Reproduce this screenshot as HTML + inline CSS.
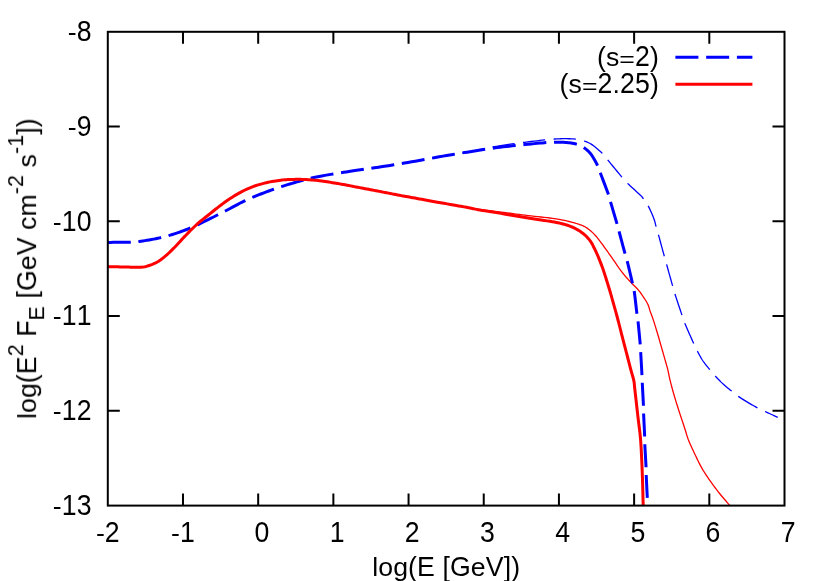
<!DOCTYPE html>
<html><head><meta charset="utf-8"><title>plot</title>
<style>
html,body{margin:0;padding:0;background:#fff;}
body{width:830px;height:581px;overflow:hidden;font-family:"Liberation Sans",sans-serif;}
svg{display:block;will-change:transform;}
</style></head><body>
<svg width="830" height="581" viewBox="0 0 830 581">
<rect width="830" height="581" fill="#fff"/>
<g font-family="'Liberation Sans', sans-serif" font-size="26.67" fill="#000" style="font-kerning:none;filter:grayscale(1)">
<path d="M182.99,505.60 v-12.00 M182.99,31.80 v12.00 M258.18,505.60 v-12.00 M258.18,31.80 v12.00 M333.37,505.60 v-12.00 M333.37,31.80 v12.00 M408.56,505.60 v-12.00 M408.56,31.80 v12.00 M483.74,505.60 v-12.00 M483.74,31.80 v12.00 M558.93,505.60 v-12.00 M558.93,31.80 v12.00 M634.12,505.60 v-12.00 M634.12,31.80 v12.00 M709.31,505.60 v-12.00 M709.31,31.80 v12.00 M107.80,410.84 h12.00 M784.50,410.84 h-12.00 M107.80,316.08 h12.00 M784.50,316.08 h-12.00 M107.80,221.32 h12.00 M784.50,221.32 h-12.00 M107.80,126.56 h12.00 M784.50,126.56 h-12.00" stroke="#000" stroke-width="2" fill="none"/>
<g transform="translate(107.80,541.80)"><text transform="translate(-11.91,0.00) scale(1,1.000)" font-size="26.67" letter-spacing="0.10">-</text><text transform="translate(-2.93,0.00) scale(1,1.090)" font-size="26.67" letter-spacing="0.10">2</text></g>
<g transform="translate(182.99,541.80)"><text transform="translate(-11.91,0.00) scale(1,1.000)" font-size="26.67" letter-spacing="0.10">-</text><text transform="translate(-2.93,0.00) scale(1,1.090)" font-size="26.67" letter-spacing="0.10">1</text></g>
<g transform="translate(261.88,541.80)"><text transform="translate(-7.42,0.00) scale(1,1.090)" font-size="26.67" letter-spacing="0.10">0</text></g>
<g transform="translate(337.07,541.80)"><text transform="translate(-7.42,0.00) scale(1,1.090)" font-size="26.67" letter-spacing="0.10">1</text></g>
<g transform="translate(412.26,541.80)"><text transform="translate(-7.42,0.00) scale(1,1.090)" font-size="26.67" letter-spacing="0.10">2</text></g>
<g transform="translate(487.45,541.80)"><text transform="translate(-7.42,0.00) scale(1,1.090)" font-size="26.67" letter-spacing="0.10">3</text></g>
<g transform="translate(562.64,541.80)"><text transform="translate(-7.42,0.00) scale(1,1.090)" font-size="26.67" letter-spacing="0.10">4</text></g>
<g transform="translate(637.83,541.80)"><text transform="translate(-7.42,0.00) scale(1,1.090)" font-size="26.67" letter-spacing="0.10">5</text></g>
<g transform="translate(713.02,541.80)"><text transform="translate(-7.42,0.00) scale(1,1.090)" font-size="26.67" letter-spacing="0.10">6</text></g>
<g transform="translate(788.20,541.80)"><text transform="translate(-7.42,0.00) scale(1,1.090)" font-size="26.67" letter-spacing="0.10">7</text></g>
<g transform="translate(91.50,514.90)"><text transform="translate(-38.75,0.00) scale(1,1.000)" font-size="26.67" letter-spacing="0.10">-</text><text transform="translate(-29.77,0.00) scale(1,1.090)" font-size="26.67" letter-spacing="0.10">13</text></g>
<g transform="translate(91.50,420.14)"><text transform="translate(-38.75,0.00) scale(1,1.000)" font-size="26.67" letter-spacing="0.10">-</text><text transform="translate(-29.77,0.00) scale(1,1.090)" font-size="26.67" letter-spacing="0.10">12</text></g>
<g transform="translate(91.50,325.38)"><text transform="translate(-38.75,0.00) scale(1,1.000)" font-size="26.67" letter-spacing="0.10">-</text><text transform="translate(-29.77,0.00) scale(1,1.090)" font-size="26.67" letter-spacing="0.10">11</text></g>
<g transform="translate(91.50,230.62)"><text transform="translate(-38.75,0.00) scale(1,1.000)" font-size="26.67" letter-spacing="0.10">-</text><text transform="translate(-29.77,0.00) scale(1,1.090)" font-size="26.67" letter-spacing="0.10">10</text></g>
<g transform="translate(91.50,135.86)"><text transform="translate(-23.81,0.00) scale(1,1.000)" font-size="26.67" letter-spacing="0.10">-</text><text transform="translate(-14.83,0.00) scale(1,1.090)" font-size="26.67" letter-spacing="0.10">9</text></g>
<g transform="translate(91.50,41.10)"><text transform="translate(-23.81,0.00) scale(1,1.000)" font-size="26.67" letter-spacing="0.10">-</text><text transform="translate(-14.83,0.00) scale(1,1.090)" font-size="26.67" letter-spacing="0.10">8</text></g>
<g transform="translate(446.15,576.00)"><text transform="translate(-73.92,0.00) scale(1,1.000)" font-size="26.67" letter-spacing="0.10">log</text><text transform="translate(-38.03,0.00) scale(1,1.020)" font-size="26.67" letter-spacing="0.10">(</text><text transform="translate(-29.05,0.00) scale(1,1.060)" font-size="26.67" letter-spacing="0.10">E</text><text transform="translate(-11.16,0.00) scale(1,1.000)" font-size="26.67" letter-spacing="0.10">&#160;</text><text transform="translate(-3.65,0.00) scale(1,1.020)" font-size="26.67" letter-spacing="0.10">[</text><text transform="translate(3.86,0.00) scale(1,1.060)" font-size="26.67" letter-spacing="0.10">G</text><text transform="translate(24.71,0.00) scale(1,1.000)" font-size="26.67" letter-spacing="0.10">e</text><text transform="translate(39.64,0.00) scale(1,1.060)" font-size="26.67" letter-spacing="0.10">V</text><text transform="translate(57.53,0.00) scale(1,1.020)" font-size="26.67" letter-spacing="0.10">])</text></g>
<g transform="translate(36.10,268.70) rotate(-90)"><text transform="translate(-150.29,0.00) scale(1,1.000)" font-size="26.67" letter-spacing="0.10">log</text><text transform="translate(-114.40,0.00) scale(1,1.020)" font-size="26.67" letter-spacing="0.10">(</text><text transform="translate(-105.42,0.00) scale(1,1.060)" font-size="26.67" letter-spacing="0.10">E</text><text transform="translate(-87.53,-13.34) scale(1,1.060)" font-size="21.34" letter-spacing="0.10">2</text><text transform="translate(-75.57,0.00) scale(1,1.000)" font-size="26.67" letter-spacing="0.10">&#160;</text><text transform="translate(-68.06,0.00) scale(1,1.060)" font-size="26.67" letter-spacing="0.10">F</text><text transform="translate(-51.66,8.00) scale(1,1.060)" font-size="21.34" letter-spacing="0.10">E</text><text transform="translate(-37.33,0.00) scale(1,1.000)" font-size="26.67" letter-spacing="0.10">&#160;</text><text transform="translate(-29.82,0.00) scale(1,1.020)" font-size="26.67" letter-spacing="0.10">[</text><text transform="translate(-22.31,0.00) scale(1,1.060)" font-size="26.67" letter-spacing="0.10">G</text><text transform="translate(-1.47,0.00) scale(1,1.000)" font-size="26.67" letter-spacing="0.10">e</text><text transform="translate(13.46,0.00) scale(1,1.060)" font-size="26.67" letter-spacing="0.10">V</text><text transform="translate(31.35,0.00) scale(1,1.000)" font-size="26.67" letter-spacing="0.10">&#160;cm</text><text transform="translate(74.61,-13.34) scale(1,1.000)" font-size="21.34" letter-spacing="0.10">-</text><text transform="translate(81.82,-13.34) scale(1,1.060)" font-size="21.34" letter-spacing="0.10">2</text><text transform="translate(93.78,0.00) scale(1,1.000)" font-size="26.67" letter-spacing="0.10">&#160;s</text><text transform="translate(114.73,-13.34) scale(1,1.000)" font-size="21.34" letter-spacing="0.10">-</text><text transform="translate(121.93,-13.34) scale(1,1.060)" font-size="21.34" letter-spacing="0.10">1</text><text transform="translate(133.90,0.00) scale(1,1.020)" font-size="26.67" letter-spacing="0.10">])</text></g>
<g transform="translate(658.80,66.30)"><text transform="translate(-61.91,0.00) scale(1,1.020)" font-size="26.67" letter-spacing="0.10">(</text><text transform="translate(-52.92,0.00) scale(1,1.000)" font-size="26.67" letter-spacing="0.10">s</text><text transform="translate(-39.49,0.95) scale(1,0.850)" font-size="26.67" letter-spacing="0.10">=</text><text transform="translate(-23.81,0.00) scale(1,1.090)" font-size="26.67" letter-spacing="0.10">2</text><text transform="translate(-8.88,0.00) scale(1,1.020)" font-size="26.67" letter-spacing="0.10">)</text></g>
<g transform="translate(658.80,93.00)"><text transform="translate(-99.28,0.00) scale(1,1.020)" font-size="26.67" letter-spacing="0.10">(</text><text transform="translate(-90.30,0.00) scale(1,1.000)" font-size="26.67" letter-spacing="0.10">s</text><text transform="translate(-76.86,0.95) scale(1,0.850)" font-size="26.67" letter-spacing="0.10">=</text><text transform="translate(-61.19,0.00) scale(1,1.090)" font-size="26.67" letter-spacing="0.10">2</text><text transform="translate(-46.26,0.00) scale(1,1.000)" font-size="26.67" letter-spacing="0.10">.</text><text transform="translate(-38.75,0.00) scale(1,1.090)" font-size="26.67" letter-spacing="0.10">25</text><text transform="translate(-8.88,0.00) scale(1,1.020)" font-size="26.67" letter-spacing="0.10">)</text></g>
</g>
<g fill="none" stroke-linecap="butt" stroke-linejoin="miter">
<path d="M675.4,57.3 H752.4" stroke="#00f" stroke-width="3" stroke-dasharray="23.0 7.75"/>
<path d="M675.4,84.3 H752.4" stroke="#f00" stroke-width="3"/>
<path d="M107.80,242.40 L110.50,242.38 L113.29,242.37 L116.11,242.36 L118.91,242.35 L121.65,242.33 L124.26,242.31 L126.69,242.26 L128.90,242.20 L130.81,242.13 L132.45,242.05 L133.89,241.97 L135.22,241.87 L136.51,241.75 L137.86,241.60 L139.32,241.42 L141.00,241.20 L142.89,240.93 L144.92,240.63 L147.06,240.29 L149.25,239.93 L151.46,239.54 L153.65,239.13 L155.78,238.72 L157.80,238.30 L159.70,237.89 L161.50,237.48 L163.25,237.06 L164.97,236.63 L166.70,236.16 L168.48,235.66 L170.33,235.11 L172.30,234.50 L174.41,233.82 L176.63,233.08 L178.93,232.30 L181.28,231.47 L183.64,230.61 L185.97,229.74 L188.23,228.87 L190.40,228.00 L192.44,227.14 L194.39,226.29 L196.27,225.43 L198.12,224.55 L199.99,223.65 L201.90,222.71 L203.89,221.73 L206.00,220.70 L208.24,219.61 L210.56,218.45 L212.97,217.26 L215.42,216.02 L217.90,214.77 L220.39,213.51 L222.86,212.25 L225.30,211.00 L227.71,209.74 L230.12,208.46 L232.54,207.15 L234.95,205.85 L237.36,204.56 L239.78,203.29 L242.19,202.07 L244.60,200.90 L247.01,199.78 L249.43,198.70 L251.84,197.65 L254.26,196.64 L256.67,195.65 L259.08,194.68 L261.49,193.73 L263.90,192.80 L266.32,191.88 L268.76,190.99 L271.21,190.11 L273.65,189.26 L276.07,188.43 L278.46,187.62 L280.81,186.85 L283.10,186.10 L285.36,185.38 L287.61,184.69 L289.83,184.02 L292.02,183.38 L294.14,182.77 L296.19,182.18 L298.15,181.63 L300.00,181.10 L301.64,180.62 L303.06,180.19 L304.33,179.80 L305.55,179.44 L306.81,179.08 L308.19,178.71 L309.79,178.33 L311.70,177.90 L313.93,177.43 L316.42,176.94 L319.11,176.43 L321.93,175.91 L324.83,175.38 L327.75,174.87 L330.62,174.37 L333.40,173.90 L336.04,173.46 L338.58,173.06 L341.08,172.67 L343.59,172.29 L346.19,171.90 L348.91,171.50 L351.83,171.07 L355.00,170.60 L358.47,170.09 L362.22,169.55 L366.17,168.98 L370.24,168.39 L374.38,167.80 L378.50,167.19 L382.53,166.59 L386.40,166.00 L390.12,165.42 L393.74,164.84 L397.32,164.25 L400.86,163.67 L404.40,163.07 L407.96,162.47 L411.59,161.84 L415.30,161.20 L419.15,160.52 L423.14,159.79 L427.21,159.04 L431.29,158.29 L435.34,157.54 L439.27,156.81 L443.05,156.13 L446.60,155.50 L449.98,154.93 L453.27,154.39 L456.45,153.88 L459.51,153.41 L462.41,152.95 L465.14,152.52 L467.67,152.10 L470.00,151.70 L472.04,151.32 L473.80,150.96 L475.33,150.63 L476.71,150.31 L477.99,150.01 L479.26,149.71 L480.57,149.41 L482.00,149.10 L483.43,148.80 L484.74,148.51 L486.00,148.24 L487.29,147.96 L488.68,147.68 L490.23,147.38 L492.01,147.06 L494.10,146.70 L496.54,146.30 L499.28,145.87 L502.26,145.41 L505.40,144.93 L508.64,144.45 L511.89,143.98 L515.11,143.52 L518.20,143.10 L521.30,142.69 L524.53,142.28 L527.80,141.88 L531.06,141.49 L534.21,141.12 L537.18,140.78 L539.90,140.47 L542.30,140.20 L544.31,139.97 L545.99,139.78 L547.42,139.62 L548.67,139.49 L549.82,139.38 L550.96,139.28 L552.16,139.19 L553.50,139.10 L554.95,139.01 L556.43,138.93 L557.92,138.86 L559.41,138.80 L560.91,138.75 L562.39,138.72 L563.86,138.70 L565.30,138.70 L566.73,138.71 L568.18,138.73 L569.62,138.76 L571.04,138.81 L572.44,138.88 L573.79,138.96 L575.08,139.07 L576.30,139.20 L577.43,139.35 L578.49,139.51 L579.48,139.69 L580.43,139.89 L581.36,140.11 L582.28,140.37 L583.22,140.67 L584.20,141.00 L585.19,141.35 L586.16,141.71 L587.12,142.09 L588.09,142.51 L589.09,142.99 L590.11,143.53 L591.18,144.16 L592.30,144.90 L593.53,145.79 L594.87,146.82 L596.28,147.97 L597.71,149.18 L599.11,150.40 L600.44,151.59 L601.65,152.71 L602.70,153.70 L603.50,154.49 L604.06,155.10 L604.47,155.59 L604.83,156.07 L605.21,156.63 L605.73,157.34 L606.46,158.30 L607.50,159.60 L608.94,161.36 L610.73,163.54 L612.75,166.02 L614.89,168.63 L617.04,171.24 L619.06,173.70 L620.86,175.87 L622.30,177.60 L623.32,178.83 L624.01,179.66 L624.47,180.22 L624.81,180.62 L625.14,180.98 L625.57,181.42 L626.22,182.05 L627.20,183.00 L628.59,184.32 L630.31,185.92 L632.26,187.71 L634.31,189.58 L636.33,191.44 L638.22,193.17 L639.85,194.70 L641.10,195.90 L641.93,196.75 L642.45,197.32 L642.74,197.68 L642.87,197.93 L642.93,198.12 L643.00,198.35 L643.16,198.68 L643.50,199.20 L643.98,199.85 L644.52,200.55 L645.10,201.30 L645.71,202.10 L646.35,202.97 L647.00,203.92 L647.65,204.96 L648.30,206.10 L648.97,207.39 L649.68,208.85 L650.41,210.42 L651.15,212.06 L651.87,213.70 L652.55,215.31 L653.16,216.83 L653.70,218.20 L654.14,219.43 L654.51,220.56 L654.82,221.62 L655.09,222.63 L655.33,223.61 L655.57,224.59 L655.82,225.58 L656.10,226.60 L656.38,227.56 L656.62,228.39 L656.85,229.17 L657.08,229.98 L657.34,230.89 L657.65,231.98 L658.03,233.32 L658.50,235.00 L659.10,237.16 L659.82,239.78 L660.62,242.71 L661.47,245.80 L662.31,248.88 L663.11,251.80 L663.82,254.39 L664.40,256.50 L664.82,258.01 L665.09,259.03 L665.28,259.72 L665.42,260.24 L665.57,260.78 L665.77,261.49 L666.06,262.54 L666.50,264.10 L667.12,266.29 L667.88,269.01 L668.74,272.08 L669.65,275.31 L670.56,278.55 L671.42,281.61 L672.18,284.32 L672.80,286.50 L673.23,288.05 L673.50,289.07 L673.67,289.75 L673.79,290.25 L673.92,290.74 L674.11,291.40 L674.42,292.40 L674.90,293.90 L675.59,296.02 L676.45,298.63 L677.42,301.57 L678.46,304.68 L679.51,307.79 L680.50,310.74 L681.38,313.37 L682.10,315.50 L682.61,317.04 L682.95,318.10 L683.17,318.85 L683.34,319.43 L683.53,319.99 L683.79,320.71 L684.20,321.72 L684.80,323.20 L685.65,325.23 L686.72,327.72 L687.92,330.50 L689.20,333.43 L690.49,336.36 L691.71,339.13 L692.80,341.59 L693.70,343.60 L694.38,345.11 L694.90,346.26 L695.31,347.13 L695.64,347.84 L695.96,348.46 L696.29,349.10 L696.69,349.85 L697.20,350.80 L697.81,351.94 L698.46,353.16 L699.15,354.45 L699.87,355.78 L700.62,357.12 L701.40,358.46 L702.19,359.76 L703.00,361.00 L703.85,362.21 L704.75,363.43 L705.69,364.63 L706.64,365.81 L707.59,366.96 L708.51,368.07 L709.39,369.12 L710.20,370.10 L710.92,370.98 L711.56,371.77 L712.14,372.49 L712.71,373.17 L713.27,373.84 L713.88,374.53 L714.54,375.28 L715.30,376.10 L716.15,377.01 L717.06,377.98 L718.02,378.99 L719.02,380.03 L720.06,381.07 L721.10,382.11 L722.16,383.12 L723.20,384.10 L724.26,385.05 L725.37,386.01 L726.50,386.95 L727.64,387.88 L728.76,388.79 L729.86,389.67 L730.91,390.51 L731.90,391.30 L732.80,392.03 L733.61,392.70 L734.37,393.33 L735.11,393.93 L735.85,394.51 L736.62,395.11 L737.46,395.73 L738.40,396.40 L739.43,397.11 L740.54,397.85 L741.70,398.61 L742.89,399.37 L744.12,400.15 L745.35,400.91 L746.59,401.67 L747.80,402.40 L749.02,403.12 L750.28,403.85 L751.55,404.58 L752.82,405.30 L754.08,406.00 L755.30,406.67 L756.48,407.31 L757.60,407.90 L758.61,408.43 L759.52,408.88 L760.36,409.29 L761.18,409.68 L762.02,410.07 L762.92,410.49 L763.93,410.96 L765.10,411.50 L766.43,412.12 L767.89,412.80 L769.45,413.51 L771.08,414.26 L772.75,415.03 L774.43,415.80 L776.09,416.56 L777.70,417.30" stroke="#00f" stroke-width="1.3" stroke-dasharray="22.3 8.45"/>
<path d="M107.80,266.60 L109.83,266.65 L111.86,266.70 L113.89,266.76 L115.91,266.81 L117.94,266.86 L119.98,266.91 L122.03,266.96 L124.10,267.00 L126.25,267.05 L128.51,267.10 L130.82,267.16 L133.12,267.21 L135.35,267.25 L137.44,267.27 L139.35,267.25 L141.00,267.20 L142.36,267.12 L143.45,267.01 L144.36,266.88 L145.13,266.72 L145.84,266.54 L146.54,266.33 L147.31,266.08 L148.20,265.80 L149.19,265.49 L150.22,265.15 L151.26,264.79 L152.32,264.39 L153.40,263.95 L154.47,263.48 L155.54,262.96 L156.60,262.40 L157.64,261.80 L158.67,261.16 L159.69,260.48 L160.72,259.76 L161.75,259.00 L162.81,258.19 L163.89,257.32 L165.00,256.40 L166.15,255.41 L167.34,254.35 L168.55,253.23 L169.78,252.07 L171.01,250.87 L172.25,249.65 L173.48,248.42 L174.70,247.20 L175.89,245.98 L177.05,244.74 L178.20,243.50 L179.35,242.23 L180.52,240.94 L181.73,239.63 L182.98,238.28 L184.30,236.90 L185.69,235.46 L187.15,233.95 L188.66,232.39 L190.20,230.82 L191.76,229.25 L193.32,227.71 L194.88,226.21 L196.40,224.80 L197.89,223.48 L199.35,222.23 L200.80,221.03 L202.25,219.86 L203.72,218.69 L205.23,217.51 L206.78,216.29 L208.40,215.00 L210.09,213.64 L211.85,212.22 L213.66,210.76 L215.50,209.28 L217.36,207.81 L219.22,206.35 L221.08,204.95 L222.90,203.60 L224.70,202.30 L226.50,201.03 L228.30,199.79 L230.10,198.57 L231.90,197.40 L233.70,196.25 L235.50,195.15 L237.30,194.10 L239.11,193.09 L240.92,192.11 L242.73,191.18 L244.54,190.28 L246.36,189.42 L248.17,188.61 L249.99,187.83 L251.80,187.10 L253.61,186.41 L255.43,185.77 L257.24,185.18 L259.06,184.62 L260.87,184.10 L262.68,183.61 L264.49,183.14 L266.30,182.70 L268.14,182.28 L270.03,181.90 L271.93,181.54 L273.82,181.22 L275.68,180.92 L277.46,180.65 L279.14,180.41 L280.70,180.20 L282.09,180.02 L283.32,179.88 L284.44,179.78 L285.50,179.70 L286.54,179.64 L287.60,179.59 L288.74,179.55 L290.00,179.50 L291.37,179.45 L292.80,179.41 L294.28,179.38 L295.80,179.36 L297.34,179.35 L298.90,179.35 L300.46,179.37 L302.00,179.40 L303.53,179.45 L305.05,179.51 L306.57,179.59 L308.10,179.68 L309.65,179.78 L311.23,179.90 L312.84,180.04 L314.50,180.20 L316.21,180.38 L317.96,180.59 L319.76,180.81 L321.57,181.05 L323.41,181.30 L325.25,181.56 L327.08,181.83 L328.90,182.10 L330.71,182.37 L332.52,182.66 L334.33,182.95 L336.15,183.24 L337.97,183.55 L339.78,183.86 L341.59,184.18 L343.40,184.50 L345.20,184.83 L347.00,185.17 L348.80,185.53 L350.60,185.88 L352.40,186.24 L354.20,186.60 L356.00,186.95 L357.80,187.30 L359.61,187.64 L361.42,187.98 L363.23,188.32 L365.05,188.65 L366.87,188.98 L368.68,189.32 L370.49,189.66 L372.30,190.00 L374.10,190.35 L375.90,190.69 L377.70,191.04 L379.50,191.39 L381.30,191.75 L383.10,192.10 L384.90,192.45 L386.70,192.80 L388.51,193.15 L390.33,193.51 L392.16,193.86 L393.99,194.22 L395.81,194.57 L397.62,194.92 L399.42,195.26 L401.20,195.60 L402.92,195.92 L404.56,196.22 L406.17,196.51 L407.78,196.80 L409.43,197.10 L411.16,197.40 L413.00,197.74 L415.00,198.10 L417.14,198.49 L419.39,198.91 L421.73,199.34 L424.16,199.79 L426.67,200.26 L429.25,200.73 L431.90,201.21 L434.60,201.70 L437.48,202.21 L440.61,202.76 L443.87,203.32 L447.17,203.89 L450.40,204.45 L453.47,204.98 L456.27,205.47 L458.70,205.90 L460.73,206.27 L462.46,206.58 L463.93,206.86 L465.23,207.11 L466.42,207.33 L467.57,207.55 L468.74,207.77 L470.00,208.00 L471.22,208.22 L472.26,208.43 L473.23,208.62 L474.20,208.81 L475.27,209.00 L476.54,209.21 L478.08,209.44 L480.00,209.70 L482.34,210.00 L485.03,210.32 L488.00,210.66 L491.17,211.01 L494.44,211.38 L497.74,211.75 L500.99,212.13 L504.10,212.50 L507.11,212.88 L510.12,213.26 L513.14,213.66 L516.15,214.06 L519.16,214.45 L522.18,214.85 L525.19,215.23 L528.20,215.60 L531.30,215.96 L534.51,216.32 L537.77,216.67 L541.01,217.01 L544.15,217.35 L547.13,217.68 L549.87,217.99 L552.30,218.30 L554.38,218.58 L556.15,218.84 L557.68,219.09 L559.05,219.33 L560.32,219.57 L561.58,219.82 L562.88,220.09 L564.30,220.40 L565.84,220.74 L567.42,221.11 L569.03,221.50 L570.62,221.91 L572.19,222.32 L573.69,222.72 L575.10,223.12 L576.40,223.50 L577.58,223.86 L578.65,224.19 L579.65,224.51 L580.58,224.84 L581.46,225.17 L582.31,225.52 L583.15,225.89 L584.00,226.30 L584.83,226.74 L585.63,227.19 L586.40,227.66 L587.15,228.16 L587.89,228.67 L588.62,229.22 L589.35,229.79 L590.10,230.40 L590.85,231.04 L591.60,231.70 L592.35,232.39 L593.10,233.11 L593.85,233.86 L594.60,234.64 L595.35,235.45 L596.10,236.30 L596.86,237.19 L597.62,238.12 L598.38,239.10 L599.15,240.10 L599.92,241.12 L600.68,242.15 L601.44,243.18 L602.20,244.20 L602.96,245.22 L603.71,246.24 L604.46,247.28 L605.21,248.32 L605.96,249.36 L606.71,250.41 L607.46,251.45 L608.20,252.50 L608.94,253.54 L609.68,254.59 L610.42,255.63 L611.15,256.68 L611.88,257.72 L612.62,258.78 L613.36,259.83 L614.10,260.90 L614.85,261.98 L615.59,263.08 L616.34,264.19 L617.09,265.31 L617.85,266.41 L618.60,267.50 L619.35,268.57 L620.10,269.60 L620.85,270.60 L621.60,271.58 L622.35,272.54 L623.09,273.48 L623.84,274.41 L624.59,275.32 L625.35,276.21 L626.10,277.10 L626.86,277.97 L627.62,278.83 L628.38,279.66 L629.15,280.49 L629.92,281.30 L630.68,282.11 L631.44,282.91 L632.20,283.70 L632.96,284.48 L633.74,285.25 L634.51,286.00 L635.28,286.75 L636.04,287.50 L636.79,288.25 L637.51,289.02 L638.20,289.80 L638.86,290.59 L639.48,291.39 L640.09,292.19 L640.68,292.99 L641.25,293.82 L641.83,294.65 L642.41,295.51 L643.00,296.40 L643.62,297.32 L644.26,298.28 L644.91,299.26 L645.55,300.26 L646.18,301.27 L646.77,302.26 L647.31,303.25 L647.80,304.20 L648.21,305.12 L648.55,306.01 L648.85,306.89 L649.11,307.76 L649.35,308.63 L649.61,309.52 L649.88,310.44 L650.20,311.40 L650.54,312.36 L650.89,313.29 L651.25,314.22 L651.62,315.19 L652.00,316.21 L652.41,317.32 L652.84,318.54 L653.30,319.90 L653.79,321.42 L654.32,323.07 L654.87,324.83 L655.44,326.68 L656.03,328.60 L656.62,330.55 L657.21,332.53 L657.80,334.50 L658.39,336.49 L658.98,338.54 L659.58,340.63 L660.18,342.76 L660.79,344.90 L661.39,347.04 L662.00,349.18 L662.60,351.30 L663.22,353.44 L663.85,355.64 L664.50,357.85 L665.14,360.06 L665.76,362.23 L666.35,364.33 L666.91,366.33 L667.40,368.20 L667.82,369.90 L668.17,371.45 L668.48,372.88 L668.76,374.25 L669.03,375.60 L669.31,376.98 L669.63,378.43 L670.00,380.00 L670.42,381.68 L670.86,383.41 L671.33,385.19 L671.81,387.01 L672.31,388.86 L672.83,390.73 L673.36,392.62 L673.90,394.50 L674.45,396.38 L675.01,398.26 L675.58,400.16 L676.17,402.07 L676.77,404.02 L677.39,406.00 L678.04,408.02 L678.70,410.10 L679.41,412.29 L680.17,414.60 L680.96,416.98 L681.76,419.39 L682.56,421.76 L683.33,424.06 L684.05,426.22 L684.70,428.20 L685.26,429.96 L685.74,431.53 L686.17,432.97 L686.57,434.32 L686.97,435.65 L687.41,437.01 L687.91,438.44 L688.50,440.00 L689.18,441.68 L689.92,443.44 L690.70,445.24 L691.53,447.09 L692.39,448.95 L693.26,450.82 L694.13,452.67 L695.00,454.50 L695.87,456.31 L696.74,458.14 L697.62,459.97 L698.52,461.79 L699.43,463.61 L700.36,465.40 L701.32,467.17 L702.30,468.90 L703.31,470.60 L704.36,472.28 L705.43,473.94 L706.51,475.57 L707.61,477.19 L708.71,478.78 L709.81,480.35 L710.90,481.90 L711.97,483.41 L713.03,484.89 L714.08,486.33 L715.14,487.76 L716.22,489.17 L717.31,490.60 L718.44,492.04 L719.60,493.50 L720.81,494.99 L722.06,496.49 L723.35,498.00 L724.65,499.52 L725.97,501.04 L727.29,502.56 L728.60,504.08 L729.90,505.60" stroke="#f00" stroke-width="1.3"/>
<path d="M107.80,242.40 L110.50,242.38 L113.29,242.37 L116.11,242.36 L118.91,242.35 L121.65,242.33 L124.26,242.31 L126.69,242.26 L128.90,242.20 L130.81,242.13 L132.45,242.05 L133.89,241.97 L135.22,241.87 L136.51,241.75 L137.86,241.60 L139.32,241.42 L141.00,241.20 L142.89,240.93 L144.92,240.63 L147.06,240.29 L149.25,239.93 L151.46,239.54 L153.65,239.13 L155.78,238.72 L157.80,238.30 L159.70,237.89 L161.50,237.48 L163.25,237.06 L164.97,236.63 L166.70,236.16 L168.48,235.66 L170.33,235.11 L172.30,234.50 L174.41,233.82 L176.63,233.08 L178.93,232.30 L181.28,231.47 L183.64,230.61 L185.97,229.74 L188.23,228.87 L190.40,228.00 L192.44,227.14 L194.39,226.29 L196.27,225.43 L198.12,224.55 L199.99,223.65 L201.90,222.71 L203.89,221.73 L206.00,220.70 L208.24,219.61 L210.56,218.45 L212.97,217.26 L215.42,216.02 L217.90,214.77 L220.39,213.51 L222.86,212.25 L225.30,211.00 L227.71,209.74 L230.12,208.46 L232.54,207.15 L234.95,205.85 L237.36,204.56 L239.78,203.29 L242.19,202.07 L244.60,200.90 L247.01,199.78 L249.43,198.70 L251.84,197.65 L254.26,196.64 L256.67,195.65 L259.08,194.68 L261.49,193.73 L263.90,192.80 L266.32,191.88 L268.76,190.99 L271.21,190.11 L273.65,189.26 L276.07,188.43 L278.46,187.62 L280.81,186.85 L283.10,186.10 L285.36,185.38 L287.61,184.69 L289.83,184.02 L292.02,183.38 L294.14,182.77 L296.19,182.18 L298.15,181.63 L300.00,181.10 L301.64,180.62 L303.06,180.19 L304.33,179.80 L305.55,179.44 L306.81,179.08 L308.19,178.71 L309.79,178.33 L311.70,177.90 L313.93,177.43 L316.42,176.94 L319.11,176.43 L321.93,175.91 L324.83,175.38 L327.75,174.87 L330.62,174.37 L333.40,173.90 L336.04,173.46 L338.58,173.06 L341.08,172.67 L343.59,172.29 L346.19,171.90 L348.91,171.50 L351.83,171.07 L355.00,170.60 L358.47,170.09 L362.22,169.55 L366.17,168.98 L370.24,168.39 L374.38,167.80 L378.50,167.19 L382.53,166.59 L386.40,166.00 L390.12,165.42 L393.74,164.84 L397.32,164.25 L400.86,163.67 L404.40,163.07 L407.96,162.47 L411.59,161.84 L415.30,161.20 L419.15,160.52 L423.14,159.79 L427.21,159.04 L431.29,158.29 L435.34,157.54 L439.27,156.81 L443.05,156.13 L446.60,155.50 L449.90,154.93 L452.99,154.41 L455.92,153.93 L458.75,153.47 L461.52,153.03 L464.29,152.60 L467.10,152.16 L470.00,151.70 L472.98,151.23 L475.98,150.75 L478.99,150.27 L482.01,149.79 L485.03,149.32 L488.06,148.86 L491.08,148.42 L494.10,148.00 L497.11,147.60 L500.12,147.22 L503.14,146.86 L506.15,146.51 L509.16,146.17 L512.18,145.84 L515.19,145.52 L518.20,145.20 L521.30,144.88 L524.53,144.55 L527.80,144.23 L531.06,143.91 L534.21,143.62 L537.18,143.34 L539.90,143.10 L542.30,142.90 L544.31,142.74 L545.99,142.61 L547.42,142.52 L548.67,142.45 L549.82,142.40 L550.96,142.36 L552.16,142.33 L553.50,142.30 L554.95,142.27 L556.43,142.24 L557.92,142.22 L559.41,142.21 L560.91,142.21 L562.39,142.25 L563.86,142.31 L565.30,142.40 L566.74,142.53 L568.20,142.68 L569.65,142.85 L571.09,143.05 L572.49,143.28 L573.84,143.53 L575.11,143.80 L576.30,144.10 L577.38,144.42 L578.37,144.74 L579.28,145.09 L580.14,145.46 L580.97,145.87 L581.80,146.33 L582.63,146.83 L583.50,147.40 L584.40,148.01 L585.29,148.65 L586.19,149.32 L587.08,150.05 L587.97,150.84 L588.86,151.70 L589.73,152.65 L590.60,153.70 L591.48,154.90 L592.39,156.25 L593.30,157.71 L594.20,159.24 L595.07,160.78 L595.89,162.28 L596.64,163.71 L597.30,165.00 L597.83,166.08 L598.22,166.95 L598.52,167.70 L598.77,168.44 L599.04,169.26 L599.37,170.24 L599.81,171.49 L600.40,173.10 L601.20,175.20 L602.17,177.76 L603.26,180.62 L604.41,183.63 L605.54,186.64 L606.61,189.49 L607.55,192.03 L608.30,194.10 L608.82,195.60 L609.15,196.62 L609.36,197.32 L609.50,197.87 L609.63,198.42 L609.80,199.14 L610.07,200.18 L610.50,201.70 L611.12,203.81 L611.88,206.40 L612.74,209.32 L613.64,212.40 L614.55,215.49 L615.41,218.42 L616.18,221.04 L616.80,223.20 L617.25,224.79 L617.57,225.91 L617.80,226.73 L617.98,227.39 L618.16,228.06 L618.37,228.88 L618.67,230.01 L619.10,231.60 L619.68,233.76 L620.39,236.40 L621.17,239.34 L622.00,242.44 L622.83,245.53 L623.61,248.46 L624.32,251.07 L624.90,253.20 L625.34,254.74 L625.65,255.79 L625.89,256.51 L626.09,257.07 L626.28,257.64 L626.50,258.37 L626.80,259.44 L627.20,261.00 L627.73,263.17 L628.38,265.83 L629.09,268.83 L629.83,271.99 L630.57,275.15 L631.27,278.15 L631.89,280.82 L632.40,283.00 L632.78,284.57 L633.07,285.64 L633.28,286.39 L633.46,286.97 L633.61,287.55 L633.77,288.31 L633.96,289.40 L634.20,291.00 L634.51,293.22 L634.85,295.95 L635.22,299.03 L635.59,302.27 L635.97,305.51 L636.32,308.58 L636.63,311.30 L636.90,313.50 L637.11,315.07 L637.26,316.11 L637.38,316.81 L637.48,317.33 L637.58,317.86 L637.69,318.56 L637.82,319.62 L638.00,321.20 L638.23,323.43 L638.51,326.18 L638.82,329.28 L639.14,332.56 L639.45,335.84 L639.74,338.96 L640.00,341.74 L640.20,344.00 L640.34,345.65 L640.43,346.81 L640.48,347.63 L640.51,348.29 L640.54,348.93 L640.57,349.72 L640.62,350.83 L640.70,352.40 L640.82,354.53 L640.97,357.11 L641.13,360.00 L641.31,363.03 L641.48,366.08 L641.64,368.98 L641.78,371.61 L641.90,373.80 L641.98,375.47 L642.04,376.73 L642.08,377.70 L642.11,378.54 L642.13,379.37 L642.17,380.35 L642.22,381.61 L642.30,383.30 L642.41,385.51 L642.55,388.16 L642.70,391.09 L642.86,394.16 L643.02,397.23 L643.17,400.14 L643.30,402.74 L643.40,404.90 L643.46,406.50 L643.49,407.64 L643.51,408.47 L643.51,409.14 L643.51,409.82 L643.51,410.65 L643.54,411.80 L643.60,413.40 L643.69,415.57 L643.81,418.19 L643.95,421.12 L644.10,424.21 L644.25,427.31 L644.39,430.25 L644.51,432.90 L644.60,435.10 L644.66,436.75 L644.68,437.95 L644.69,438.86 L644.69,439.62 L644.69,440.38 L644.70,441.30 L644.73,442.52 L644.80,444.20 L644.91,446.44 L645.05,449.15 L645.22,452.17 L645.40,455.34 L645.58,458.51 L645.75,461.51 L645.89,464.20 L646.00,466.40 L646.07,468.01 L646.10,469.13 L646.11,469.92 L646.11,470.56 L646.10,471.19 L646.11,472.00 L646.14,473.15 L646.20,474.80 L646.30,477.07 L646.43,479.86 L646.58,482.98 L646.74,486.28 L646.90,489.57 L647.05,492.69 L647.19,495.46 L647.30,497.70 L647.38,499.41 L647.45,500.73 L647.50,501.76 L647.54,502.59 L647.58,503.30 L647.62,503.98 L647.65,504.72 L647.70,505.60" stroke="#00f" stroke-width="3" stroke-dasharray="23.0 7.75"/>
<path d="M107.80,266.60 L109.83,266.65 L111.86,266.70 L113.89,266.76 L115.91,266.81 L117.94,266.86 L119.98,266.91 L122.03,266.96 L124.10,267.00 L126.25,267.05 L128.51,267.10 L130.82,267.16 L133.12,267.21 L135.35,267.25 L137.44,267.27 L139.35,267.25 L141.00,267.20 L142.36,267.12 L143.45,267.01 L144.36,266.88 L145.13,266.72 L145.84,266.54 L146.54,266.33 L147.31,266.08 L148.20,265.80 L149.19,265.49 L150.22,265.15 L151.26,264.79 L152.32,264.39 L153.40,263.95 L154.47,263.48 L155.54,262.96 L156.60,262.40 L157.64,261.80 L158.67,261.16 L159.69,260.48 L160.72,259.76 L161.75,259.00 L162.81,258.19 L163.89,257.32 L165.00,256.40 L166.15,255.41 L167.34,254.35 L168.55,253.23 L169.78,252.07 L171.01,250.87 L172.25,249.65 L173.48,248.42 L174.70,247.20 L175.89,245.98 L177.05,244.74 L178.20,243.50 L179.35,242.23 L180.52,240.94 L181.73,239.63 L182.98,238.28 L184.30,236.90 L185.69,235.46 L187.15,233.95 L188.66,232.39 L190.20,230.82 L191.76,229.25 L193.32,227.71 L194.88,226.21 L196.40,224.80 L197.89,223.48 L199.35,222.23 L200.80,221.03 L202.25,219.86 L203.72,218.69 L205.23,217.51 L206.78,216.29 L208.40,215.00 L210.09,213.64 L211.85,212.22 L213.66,210.76 L215.50,209.28 L217.36,207.81 L219.22,206.35 L221.08,204.95 L222.90,203.60 L224.70,202.30 L226.50,201.03 L228.30,199.79 L230.10,198.57 L231.90,197.40 L233.70,196.25 L235.50,195.15 L237.30,194.10 L239.11,193.09 L240.92,192.11 L242.73,191.18 L244.54,190.28 L246.36,189.42 L248.17,188.61 L249.99,187.83 L251.80,187.10 L253.61,186.41 L255.43,185.77 L257.24,185.18 L259.06,184.62 L260.87,184.10 L262.68,183.61 L264.49,183.14 L266.30,182.70 L268.14,182.28 L270.03,181.90 L271.93,181.54 L273.82,181.22 L275.68,180.92 L277.46,180.65 L279.14,180.41 L280.70,180.20 L282.09,180.02 L283.32,179.88 L284.44,179.78 L285.50,179.70 L286.54,179.64 L287.60,179.59 L288.74,179.55 L290.00,179.50 L291.37,179.45 L292.80,179.41 L294.28,179.38 L295.80,179.36 L297.34,179.35 L298.90,179.35 L300.46,179.37 L302.00,179.40 L303.53,179.45 L305.05,179.51 L306.57,179.59 L308.10,179.68 L309.65,179.78 L311.23,179.90 L312.84,180.04 L314.50,180.20 L316.21,180.38 L317.96,180.59 L319.76,180.81 L321.57,181.05 L323.41,181.30 L325.25,181.56 L327.08,181.83 L328.90,182.10 L330.71,182.37 L332.52,182.66 L334.33,182.95 L336.15,183.24 L337.97,183.55 L339.78,183.86 L341.59,184.18 L343.40,184.50 L345.20,184.83 L347.00,185.17 L348.80,185.53 L350.60,185.88 L352.40,186.24 L354.20,186.60 L356.00,186.95 L357.80,187.30 L359.61,187.64 L361.42,187.98 L363.23,188.32 L365.05,188.65 L366.87,188.98 L368.68,189.32 L370.49,189.66 L372.30,190.00 L374.10,190.35 L375.90,190.69 L377.70,191.04 L379.50,191.39 L381.30,191.75 L383.10,192.10 L384.90,192.45 L386.70,192.80 L388.51,193.15 L390.33,193.51 L392.16,193.86 L393.99,194.22 L395.81,194.57 L397.62,194.92 L399.42,195.26 L401.20,195.60 L402.92,195.92 L404.56,196.22 L406.17,196.51 L407.78,196.80 L409.43,197.10 L411.16,197.40 L413.00,197.74 L415.00,198.10 L417.14,198.49 L419.39,198.91 L421.73,199.34 L424.16,199.79 L426.67,200.26 L429.25,200.73 L431.90,201.21 L434.60,201.70 L437.48,202.21 L440.61,202.76 L443.87,203.32 L447.17,203.89 L450.40,204.45 L453.47,204.98 L456.27,205.47 L458.70,205.90 L460.73,206.26 L462.46,206.57 L463.93,206.85 L465.23,207.09 L466.42,207.31 L467.57,207.53 L468.74,207.76 L470.00,208.00 L471.22,208.24 L472.26,208.46 L473.23,208.67 L474.20,208.89 L475.27,209.12 L476.54,209.37 L478.08,209.66 L480.00,210.00 L482.34,210.40 L485.03,210.84 L488.00,211.31 L491.17,211.82 L494.44,212.34 L497.74,212.87 L500.99,213.39 L504.10,213.90 L507.11,214.41 L510.12,214.92 L513.14,215.44 L516.15,215.96 L519.16,216.48 L522.18,217.00 L525.19,217.51 L528.20,218.00 L531.30,218.49 L534.51,218.98 L537.77,219.47 L541.01,219.94 L544.15,220.41 L547.13,220.86 L549.87,221.29 L552.30,221.70 L554.41,222.08 L556.25,222.42 L557.88,222.75 L559.32,223.06 L560.65,223.37 L561.89,223.67 L563.09,223.98 L564.30,224.30 L565.48,224.63 L566.56,224.96 L567.57,225.29 L568.52,225.62 L569.42,225.95 L570.29,226.29 L571.14,226.64 L572.00,227.00 L572.84,227.36 L573.64,227.72 L574.41,228.08 L575.16,228.46 L575.89,228.84 L576.62,229.24 L577.35,229.66 L578.10,230.10 L578.87,230.57 L579.66,231.08 L580.45,231.61 L581.24,232.15 L582.01,232.70 L582.75,233.25 L583.45,233.78 L584.10,234.30 L584.69,234.80 L585.24,235.29 L585.75,235.78 L586.23,236.26 L586.69,236.74 L587.13,237.23 L587.57,237.71 L588.00,238.20 L588.43,238.68 L588.83,239.15 L589.22,239.60 L589.59,240.07 L589.97,240.55 L590.34,241.06 L590.71,241.60 L591.10,242.20 L591.50,242.86 L591.91,243.58 L592.32,244.33 L592.74,245.12 L593.15,245.91 L593.55,246.70 L593.93,247.47 L594.30,248.20 L594.65,248.90 L594.98,249.58 L595.31,250.26 L595.62,250.92 L595.92,251.57 L596.22,252.22 L596.51,252.86 L596.80,253.50 L597.07,254.10 L597.32,254.64 L597.55,255.16 L597.77,255.68 L598.01,256.24 L598.27,256.85 L598.56,257.57 L598.90,258.40 L599.29,259.37 L599.71,260.44 L600.17,261.59 L600.66,262.82 L601.15,264.09 L601.64,265.39 L602.13,266.70 L602.60,268.00 L603.05,269.30 L603.50,270.63 L603.95,271.98 L604.40,273.35 L604.85,274.74 L605.30,276.15 L605.75,277.57 L606.20,279.00 L606.66,280.45 L607.13,281.93 L607.59,283.43 L608.06,284.94 L608.53,286.46 L608.99,287.98 L609.45,289.49 L609.90,291.00 L610.34,292.49 L610.76,293.95 L611.17,295.41 L611.59,296.88 L612.00,298.35 L612.42,299.86 L612.85,301.40 L613.30,303.00 L613.77,304.65 L614.25,306.36 L614.74,308.10 L615.24,309.88 L615.74,311.66 L616.23,313.45 L616.72,315.24 L617.20,317.00 L617.66,318.75 L618.12,320.50 L618.57,322.25 L619.02,324.00 L619.46,325.75 L619.91,327.50 L620.35,329.25 L620.80,331.00 L621.25,332.76 L621.70,334.52 L622.16,336.29 L622.61,338.06 L623.06,339.82 L623.51,341.57 L623.96,343.30 L624.40,345.00 L624.84,346.68 L625.27,348.34 L625.70,349.99 L626.13,351.62 L626.56,353.24 L626.98,354.84 L627.39,356.43 L627.80,358.00 L628.20,359.56 L628.60,361.10 L628.99,362.63 L629.38,364.15 L629.77,365.65 L630.15,367.12 L630.52,368.57 L630.90,370.00 L631.28,371.40 L631.68,372.78 L632.08,374.13 L632.47,375.47 L632.85,376.78 L633.21,378.07 L633.52,379.35 L633.80,380.60 L634.01,381.69 L634.15,382.57 L634.25,383.35 L634.33,384.14 L634.41,385.08 L634.52,386.27 L634.67,387.84 L634.90,389.90 L635.20,392.57 L635.57,395.79 L635.98,399.41 L636.41,403.27 L636.86,407.23 L637.30,411.14 L637.72,414.84 L638.10,418.20 L638.45,421.17 L638.80,423.89 L639.13,426.44 L639.45,428.92 L639.76,431.42 L640.05,434.04 L640.34,436.87 L640.60,440.00 L640.85,443.43 L641.08,447.06 L641.29,450.87 L641.49,454.81 L641.68,458.85 L641.86,462.95 L642.03,467.08 L642.20,471.20 L642.35,475.35 L642.49,479.57 L642.62,483.87 L642.74,488.20 L642.85,492.56 L642.96,496.92 L643.08,501.28 L643.20,505.60" stroke="#f00" stroke-width="3"/>
</g>
<rect x="107.80" y="31.80" width="676.70" height="473.80" fill="none" stroke="#000" stroke-width="2"/>
</svg>
</body></html>
